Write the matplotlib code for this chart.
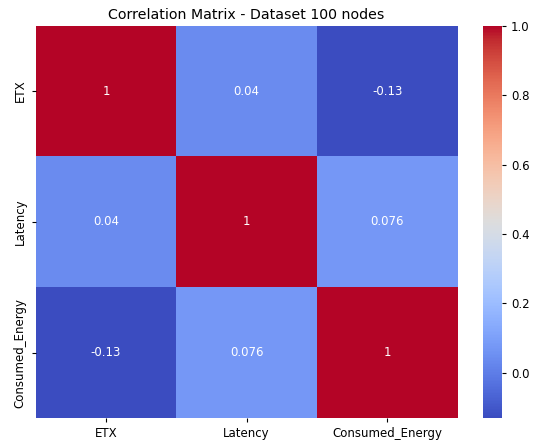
import numpy as np
import pandas as pd
import seaborn as sns
import matplotlib.pyplot as plt

# Pairwise correlations between the three metrics
labels = ["ETX", "Latency", "Consumed_Energy"]
corr_etx_latency = 0.04
corr_etx_energy = -0.13
corr_latency_energy = 0.076

corr = pd.DataFrame(
    [[1, corr_etx_latency, corr_etx_energy],
     [corr_etx_latency, 1, corr_latency_energy],
     [corr_etx_energy, corr_latency_energy, 1]],
    index=labels, columns=labels)

fig = plt.figure(figsize=(5.38, 4.4), dpi=100)
ax = fig.add_axes([0.0664, 0.05, 0.784, 0.8916])
cax = fig.add_axes([0.8972, 0.05, 0.0359, 0.8916])
sns.heatmap(corr, annot=True, cmap="coolwarm", ax=ax, cbar_ax=cax,
            annot_kws={"fontsize": 8.5})
ax.set_title("Correlation Matrix - Dataset 100 nodes", fontsize=10.2, pad=5)
ax.tick_params(labelsize=8.5, length=3)
cax.tick_params(labelsize=8.5, length=3)
cax.set_yticks([0.0, 0.2, 0.4, 0.6, 0.8, 1.0])
plt.savefig("out.png", dpi=100)
